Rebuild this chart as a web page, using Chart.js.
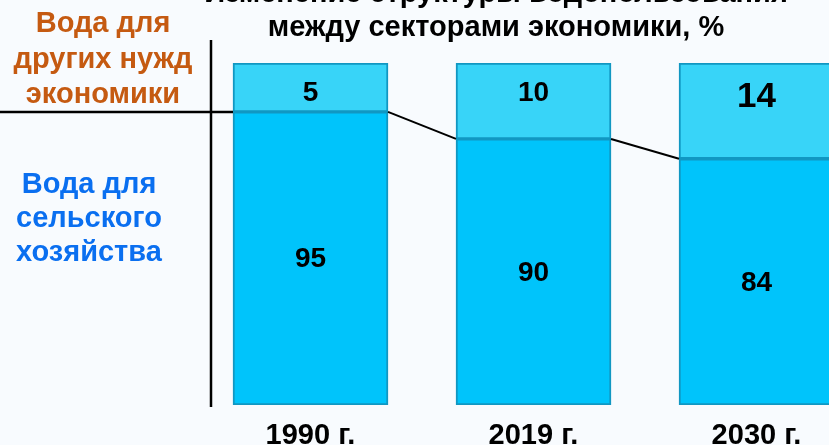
<!DOCTYPE html>
<html>
<head>
<meta charset="utf-8">
<script src="https://cdn.jsdelivr.net/npm/chart.js@4.4.1/dist/chart.umd.min.js"></script>
<style>
  html, body { margin: 0; padding: 0; background: #f8fbfe; overflow: hidden; }
  #wrap { position: relative; width: 829px; height: 445px; }
  #chart { position: absolute; left: 0; top: 0; }
  .txt { position: absolute; font-family: "Liberation Sans", Arial, sans-serif; font-weight: bold; text-align: center; white-space: nowrap; }
  #title { left: 196px; width: 600px; top: -25px; font-size: 29px; line-height: 34px; color: #000; }
  #other { left: 3px; width: 200px; top: 5px; font-size: 29px; line-height: 35.5px; color: #c55a11; }
  #agri { left: -11px; width: 200px; top: 166px; font-size: 29px; line-height: 34px; color: #0a6ff0; }
</style>
</head>
<body>
<div id="wrap">
  <canvas id="chart" width="829" height="445"></canvas>
  <div class="txt" id="title">Изменение структуры водопользования<br>между секторами экономики, %</div>
  <div class="txt" id="other">Вода для<br>других нужд<br>экономики</div>
  <div class="txt" id="agri">Вода для<br>сельского<br>хозяйства</div>
</div>
<script>
const categories = ["1990 г.", "2019 г.", "2030 г."];
const agriShare = [95, 90, 84];   // вода для сельского хозяйства, %
const otherShare = [5, 10, 14];   // вода для других нужд экономики, %
// the bars in the picture are not drawn to scale: where the boundary sits on a 0-100 axis
const splitLevel = [85.7, 77.8, 72.0];

const barBorder = "#1197c2";
const fontFamily = "'Liberation Sans', Arial, sans-serif";

// lines, connectors and value labels
const decorPlugin = {
    id: "decor",
    afterDatasetsDraw(chart) {
        const ctx = chart.ctx;
        const area = chart.chartArea;
        const yScale = chart.scales.y;
        const bars = chart.getDatasetMeta(0).data;
        const tops = chart.getDatasetMeta(1).data;

        ctx.save();
        ctx.strokeStyle = "#000";

        // vertical divider
        ctx.lineWidth = 2.5;
        ctx.beginPath();
        ctx.moveTo(area.left - 1, 40);
        ctx.lineTo(area.left - 1, area.bottom + 2);
        ctx.stroke();

        // horizontal line from the left edge to the first bar
        const y0 = yScale.getPixelForValue(splitLevel[0]);
        ctx.beginPath();
        ctx.moveTo(0, y0);
        ctx.lineTo(bars[0].x - bars[0].width / 2, y0);
        ctx.stroke();

        // connectors between the bars
        ctx.lineWidth = 2;
        for (let i = 0; i < bars.length - 1; i++) {
            const a = bars[i], b = bars[i + 1];
            ctx.beginPath();
            ctx.moveTo(a.x + a.width / 2, yScale.getPixelForValue(splitLevel[i]));
            ctx.lineTo(b.x - b.width / 2, yScale.getPixelForValue(splitLevel[i + 1]));
            ctx.stroke();
        }

        // value labels
        ctx.fillStyle = "#000";
        ctx.textAlign = "center";
        ctx.textBaseline = "middle";
        bars.forEach((bar, i) => {
            ctx.font = "bold 28px " + fontFamily;
            ctx.fillText(String(agriShare[i]), bar.x, (bar.y + bar.base) / 2 + 1);
            const t = tops[i];
            ctx.font = (i === 2 ? "bold 35px " : "bold 28px ") + fontFamily;
            ctx.fillText(String(otherShare[i]), t.x, t.y + (i === 2 ? 34 : 30));
        });
        ctx.restore();
    },
};

const ctx = document.getElementById("chart").getContext("2d");
new Chart(ctx, {
    type: "bar",
    data: {
        datasets: [
            {
                label: "Вода для сельского хозяйства",
                data: categories.map((c, i) => ({ x: i, y: [0, splitLevel[i]] })),
                backgroundColor: "#00c4fb",
                borderColor: barBorder,
                borderWidth: 2,
                borderSkipped: false,
                barThickness: 155,
                grouped: false,
            },
            {
                label: "Вода для других нужд экономики",
                data: categories.map((c, i) => ({ x: i, y: [splitLevel[i], 100] })),
                backgroundColor: "#38d4f8",
                borderColor: barBorder,
                borderWidth: 2,
                borderSkipped: false,
                barThickness: 155,
                grouped: false,
            },
        ],
    },
    options: {
        responsive: false,
        animation: false,
        layout: { padding: { left: 212, top: 63, right: 0, bottom: -21 } },
        scales: {
            x: {
                type: "linear",
                offset: false,
                min: -0.4417,
                max: 2.325,
                grid: { display: false, drawTicks: false },
                border: { display: false },
                afterBuildTicks: (axis) => {
                    axis.ticks = categories.map((c, i) => ({ value: i }));
                },
                ticks: {
                    padding: 16,
                    color: "#000",
                    font: { family: fontFamily, size: 29, weight: "bold", lineHeight: 1.0 },
                    callback: (v) => categories[v],
                    maxRotation: 0,
                    autoSkip: false,
                },
            },
            y: {
                display: false,
                min: 0,
                max: 100,
            },
        },
        plugins: {
            legend: { display: false },
            tooltip: { enabled: false },
        },
    },
    plugins: [decorPlugin],
});
</script>
</body>
</html>
